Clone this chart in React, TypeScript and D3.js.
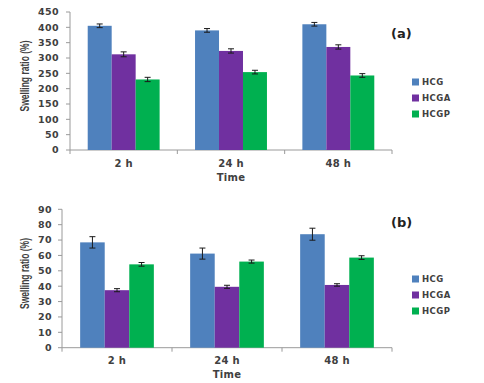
import React from "react";
import * as d3 from "d3";

const categories = ["2 h", "24 h", "48 h"];
const seriesNames = ["HCG", "HCGA", "HCGP"];
const colors = ["#4F81BD", "#7030A0", "#00B050"];

const aValues = [
  [405, 390, 410],
  [312, 323, 336],
  [230, 254, 243],
];
const aErrors = [
  [6, 6, 6],
  [8, 7, 7],
  [7, 6, 6],
];
const aTicks = [0, 50, 100, 150, 200, 250, 300, 350, 400, 450];

const bValues = [
  [68.5, 61.2, 73.8],
  [37.4, 39.6, 40.8],
  [54.2, 56.0, 58.6],
];
const bErrors = [
  [3.7, 3.6, 3.9],
  [1.0, 1.0, 0.8],
  [1.2, 1.0, 1.2],
];
const bTicks = [0, 10, 20, 30, 40, 50, 60, 70, 80, 90];

const FONT = "'DejaVu Sans', Verdana, sans-serif";
const TXT = "#404040";

type PanelProps = {
  top: number;
  bottom: number;
  left: number;
  right: number;
  max: number;
  ticks: number[];
  values: number[][];
  errors: number[][];
  label: string;
  labelY: number;
  legendY: number;
  tickGap: number;
};

function Panel(p: PanelProps) {
  const y = d3.scaleLinear().domain([0, p.max]).range([p.bottom, p.top]);
  const x = d3.scaleBand().domain(categories).range([p.left, p.right]).paddingInner(0.33).paddingOuter(0.165);
  const xs = d3.scaleBand().domain(seriesNames).range([0, x.bandwidth()]);
  const step = (p.right - p.left) / categories.length;
  const midY = (p.top + p.bottom) / 2;
  return (
    <g>
      <line x1={p.left} x2={p.left} y1={p.top} y2={p.bottom} stroke="#9a9a9a" strokeWidth={1} />
      <line x1={p.left} x2={p.right} y1={p.bottom} y2={p.bottom} stroke="#9a9a9a" strokeWidth={1} />
      {p.ticks.map((t) => (
        <g key={t}>
          <line x1={p.left - 4} x2={p.left} y1={y(t)} y2={y(t)} stroke="#9a9a9a" />
          <text x={p.left - p.tickGap} y={y(t)} dy="0.35em" textAnchor="end" fontFamily={FONT} fontWeight="bold" fontSize={9.5} fill={TXT} letterSpacing={0.4}>
            {t}
          </text>
        </g>
      ))}
      {d3.range(categories.length + 1).map((i) => (
        <line key={i} x1={p.left + i * step} x2={p.left + i * step} y1={p.bottom} y2={p.bottom + 4} stroke="#9a9a9a" />
      ))}
      {seriesNames.map((s, si) =>
        categories.map((c, ci) => {
          const v = p.values[si][ci];
          const e = p.errors[si][ci];
          const bx = (x(c) as number) + (xs(s) as number);
          const bw = xs.bandwidth();
          const cx = bx + bw / 2;
          return (
            <g key={s + c}>
              <rect x={bx} y={y(v)} width={bw} height={p.bottom - y(v)} fill={colors[si]} />
              <line x1={cx} x2={cx} y1={y(v + e)} y2={y(v - e)} stroke="#1a1a1a" strokeWidth={1} />
              <line x1={cx - 3} x2={cx + 3} y1={y(v + e)} y2={y(v + e)} stroke="#1a1a1a" strokeWidth={1} />
              <line x1={cx - 3} x2={cx + 3} y1={y(v - e)} y2={y(v - e)} stroke="#1a1a1a" strokeWidth={1} />
            </g>
          );
        })
      )}
      {categories.map((c) => (
        <text key={c} x={(x(c) as number) + x.bandwidth() / 2} y={p.bottom + 13} dy="0.35em" textAnchor="middle" fontFamily={FONT} fontWeight="bold" fontSize={10} fill={TXT} letterSpacing={0.3}>
          {c}
        </text>
      ))}
      <text x={(p.left + p.right) / 2} y={p.bottom + 27} dy="0.35em" textAnchor="middle" fontFamily={FONT} fontWeight="bold" fontSize={10} fill={TXT} letterSpacing={0.3}>
        Time
      </text>
      <text
        transform={`translate(25,${midY - 5}) rotate(-90)`}
        textAnchor="middle"
        dy="0.35em"
        fontFamily="'Liberation Sans Narrow', 'Liberation Sans', Arial, sans-serif"
        fontWeight="bold"
        fontSize={12}
        fill={TXT}
        textLength={71}
        lengthAdjust="spacingAndGlyphs"
      >
        Swelling ratio (%)
      </text>
      <text x={391} y={p.labelY} dy="0.35em" fontFamily={FONT} fontWeight="bold" fontSize={13} fill="#222">
        {p.label}
      </text>
      {seriesNames.map((s, i) => (
        <g key={s}>
          <rect x={412} y={p.legendY + i * 16 - 3.5} width={7} height={7} fill={colors[i]} />
          <text x={422} y={p.legendY + i * 16} dy="0.35em" fontFamily={FONT} fontWeight="bold" fontSize={8.5} fill={TXT} letterSpacing={0.5}>
            {s}
          </text>
        </g>
      ))}
    </g>
  );
}

export default function App() {
  return (
    <svg width={484} height={383} style={{ position: "absolute", left: 0, top: 0, background: "#fff" }}>
      <rect width={484} height={383} fill="#fff" />
      <Panel top={12} bottom={150} left={70} right={392} max={450} ticks={aTicks} values={aValues} errors={aErrors} label="(a)" labelY={33} legendY={82} tickGap={11} />
      <Panel top={209.3} bottom={347.7} left={62} right={392} max={90} ticks={bTicks} values={bValues} errors={bErrors} label="(b)" labelY={222} legendY={279} tickGap={10} />
    </svg>
  );
}
